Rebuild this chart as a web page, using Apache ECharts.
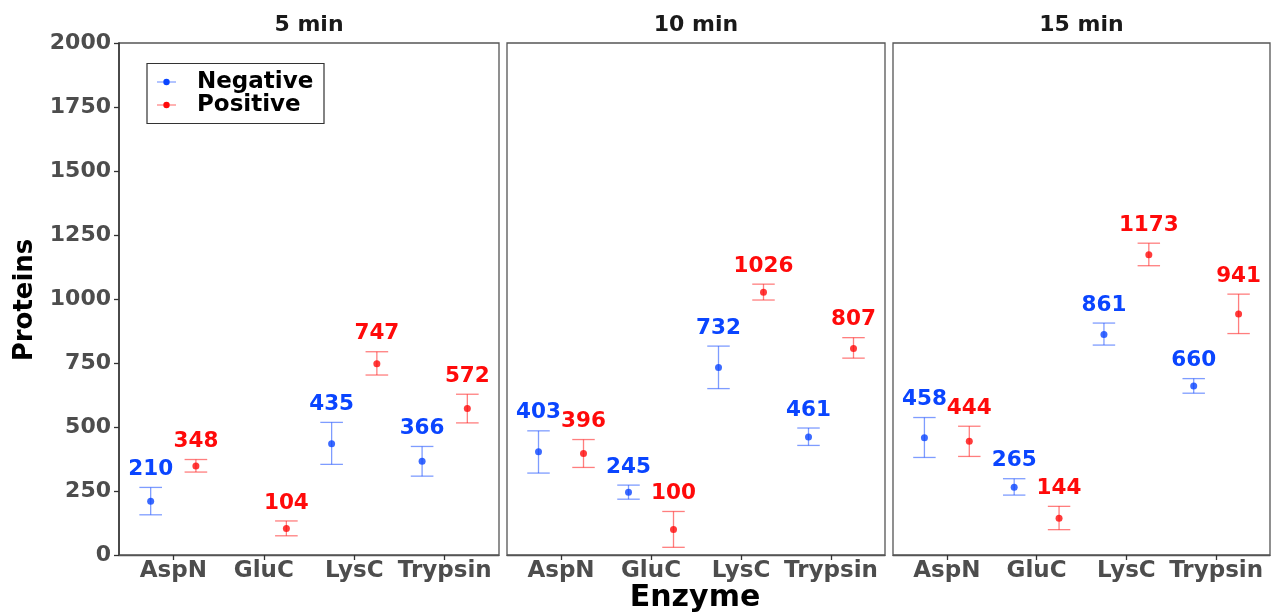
<!DOCTYPE html>
<html>
<head>
<meta charset="utf-8">
<script src="https://cdn.jsdelivr.net/npm/echarts@6/dist/echarts.min.js"></script>
<style>
  html, body { margin: 0; padding: 0; background: #fff; }
  #chart { width: 1272px; height: 614px; }
</style>
</head>
<body>
<div id="chart"></div>
<script>
// Protein identifications per enzyme, faceted by digestion time
const enzymes = ['AspN', 'GluC', 'LysC', 'Trypsin'];
const panels = ['5 min', '10 min', '15 min'];
const groups = ['Negative', 'Positive'];
const yTicks = [0, 250, 500, 750, 1000, 1250, 1500, 1750, 2000];

// Negative: mean and error-bar limits (one row per panel, one column per enzyme)
const negMean = [[210, null, 435, 366], [403, 245, 732, 461], [458, 265, 861, 660]];
const negLow  = [[157, null, 354, 308], [320, 218, 650, 428], [381, 234, 820, 632]];
const negHigh = [[264, null, 518, 424], [485, 273, 816, 496], [537, 298, 906, 689]];

// Positive: mean and error-bar limits
const posMean = [[348, 104, 747, 572], [396, 100, 1026, 807], [444, 144, 1173, 941]];
const posLow  = [[324, 75, 703, 516], [342, 30, 996, 769], [385, 99, 1130, 865]];
const posHigh = [[373, 133, 794, 628], [451, 170, 1058, 849], [503, 190, 1218, 1019]];

const colors = { Negative: '#0a45ff', Positive: '#ff0a0a' };
const barColors = { Negative: 'rgba(40,90,255,0.6)', Positive: 'rgba(255,40,40,0.6)' };
const dodge = { Negative: -0.25, Positive: 0.25 };
const FONT = '"DejaVu Sans", Verdana, sans-serif';

const chart = echarts.init(document.getElementById('chart'), null, { renderer: 'canvas' });

const gridBoxes = [
  { left: 119, width: 380 },
  { left: 507, width: 378 },
  { left: 893, width: 377 }
];

const grids = gridBoxes.map(g => ({
  left: g.left, width: g.width, top: 43, bottom: 59,
  show: true, borderColor: '#555', borderWidth: 1.3, backgroundColor: '#fff', containLabel: false
}));

const xAxes = gridBoxes.map((g, i) => ({
  type: 'value', gridIndex: i, min: -0.6, max: 3.6,
  splitLine: { show: false },
  axisLine: { show: true, onZero: false, lineStyle: { color: '#555', width: 1.3 } },
  axisTick: { show: true, customValues: [0, 1, 2, 3], length: 5, lineStyle: { color: '#333', width: 1.3 } },
  axisLabel: {
    show: true, customValues: [0, 1, 2, 3], margin: 5,
    formatter: v => enzymes[Math.round(v)] || '',
    color: '#4d4d4d', fontSize: 23, fontWeight: 'bold', fontFamily: FONT
  }
}));

const yAxes = gridBoxes.map((g, i) => ({
  type: 'value', gridIndex: i, min: 0, max: 2000, interval: 250,
  splitLine: { show: false },
  axisLine: { show: i === 0, onZero: false, lineStyle: { color: '#333', width: 1.5 } },
  axisTick: { show: i === 0, length: 5, lineStyle: { color: '#333', width: 1.3 } },
  axisLabel: {
    show: i === 0, margin: 8,
    formatter: v => (yTicks.indexOf(v) >= 0 ? String(v) : ''),
    color: '#4d4d4d', fontSize: 22, fontWeight: 'bold', fontFamily: FONT
  }
}));

function rows(p, group) {
  const mean = group === 'Negative' ? negMean[p] : posMean[p];
  const low = group === 'Negative' ? negLow[p] : posLow[p];
  const high = group === 'Negative' ? negHigh[p] : posHigh[p];
  const out = [];
  enzymes.forEach((e, k) => {
    if (mean[k] == null) return;
    out.push([k + dodge[group], low[k], high[k], mean[k]]);
  });
  return out;
}

const series = [];
panels.forEach((panel, p) => {
  groups.forEach(group => {
    const data = rows(p, group);
    // error bars with value labels above
    series.push({
      type: 'custom', name: group, xAxisIndex: p, yAxisIndex: p,
      data: data, silent: true, z: 2,
      renderItem: (params, api) => {
        const x = api.value(0);
        const lo = api.coord([x, api.value(1)]);
        const hi = api.coord([x, api.value(2)]);
        const capL = api.coord([x - 0.125, api.value(2)])[0];
        const capR = api.coord([x + 0.125, api.value(2)])[0];
        const style = { stroke: barColors[group], lineWidth: 1.3 };
        return {
          type: 'group',
          children: [
            { type: 'line', shape: { x1: lo[0], y1: lo[1], x2: hi[0], y2: hi[1] }, style },
            { type: 'line', shape: { x1: capL, y1: hi[1], x2: capR, y2: hi[1] }, style },
            { type: 'line', shape: { x1: capL, y1: lo[1], x2: capR, y2: lo[1] }, style },
            {
              type: 'text', x: hi[0], y: hi[1] - 18,
              style: {
                text: String(api.value(3)), fill: colors[group],
                font: 'bold 21.5px ' + FONT, align: 'center', verticalAlign: 'middle'
              }
            }
          ]
        };
      }
    });
    // mean points
    series.push({
      type: 'scatter', name: group, xAxisIndex: p, yAxisIndex: p,
      data: data.map(d => [d[0], d[3]]),
      symbol: 'circle', symbolSize: 7, z: 3, silent: true,
      itemStyle: { color: colors[group] }
    });
  });
});

// facet strip titles
const stripTexts = gridBoxes.map((g, i) => ({
  type: 'text', x: g.left + g.width / 2, y: 25,
  style: {
    text: panels[i], font: 'bold 22px ' + FONT, fill: '#1a1a1a',
    align: 'center', verticalAlign: 'middle'
  }
}));

// legend box
const legendItems = [];
groups.forEach((group, j) => {
  const cy = 82 + j * 23;
  legendItems.push(
    { type: 'line', shape: { x1: 157, y1: cy, x2: 176, y2: cy }, style: { stroke: barColors[group], lineWidth: 1.2 } },
    { type: 'circle', shape: { cx: 166.5, cy: cy, r: 3.2 }, style: { fill: colors[group] } },
    {
      type: 'text', x: 197, y: cy, style: {
        text: group, font: 'bold 23px ' + FONT, fill: '#000',
        align: 'left', verticalAlign: 'middle'
      }
    }
  );
});

chart.setOption({
  backgroundColor: '#fff',
  animation: false,
  grid: grids,
  xAxis: xAxes,
  yAxis: yAxes,
  series: series,
  graphic: [
    ...stripTexts,
    { type: 'rect', shape: { x: 147, y: 63.5, width: 177, height: 60 }, style: { fill: '#fff', stroke: '#333', lineWidth: 1.2 }, z: 10 },
    ...legendItems.map(it => Object.assign(it, { z: 11 })),
    {
      type: 'text', x: 695, y: 598, style: {
        text: 'Enzyme', font: 'bold 30px ' + FONT, fill: '#000', align: 'center', verticalAlign: 'middle'
      }
    },
    {
      type: 'text', x: 25, y: 300, rotation: Math.PI / 2, style: {
        text: 'Proteins', font: 'bold 26px ' + FONT, fill: '#000', align: 'center', verticalAlign: 'middle'
      }
    }
  ]
});
</script>
</body>
</html>
